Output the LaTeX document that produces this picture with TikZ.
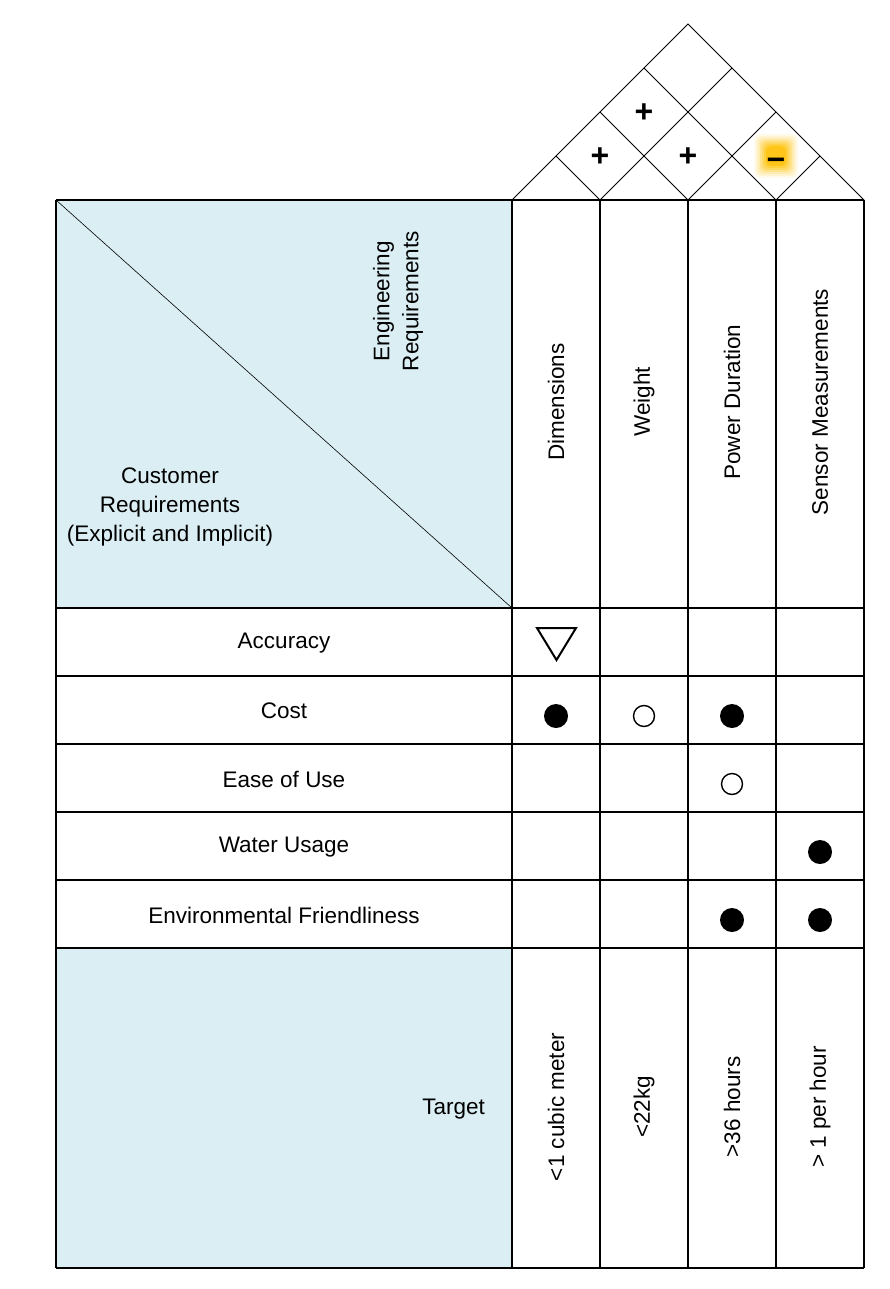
\documentclass[tikz,border=0pt]{standalone}
\usepackage{fontspec}
\setmainfont{Liberation Sans}
\definecolor{cellblue}{HTML}{DAEEF3}
\definecolor{glow}{HTML}{FFC000}
\begin{document}
\begin{tikzpicture}[x=1pt,y=-1pt]
    \tikzstyle{grid} = [draw=black, line width=1.2pt]
    \tikzstyle{roof} = [draw=black, line width=0.8pt]
    \tikzstyle{lbl}  = [font=\fontsize{22.5}{29}\selectfont, inner sep=0pt, align=center]
    \tikzstyle{vlbl} = [lbl, rotate=90]
    \tikzstyle{full} = [circle, fill=black, minimum size=24pt, inner sep=0pt]
    \tikzstyle{open} = [circle, draw=black, line width=1.4pt, minimum size=21pt, inner sep=0pt]
    \tikzstyle{sign} = [font=\fontsize{32}{32}\selectfont\bfseries, inner sep=0pt]
    \useasboundingbox (0,0) rectangle (889,1289);

    % blue cells
    \fill[cellblue] (56,200) rectangle (512,608);
    \fill[cellblue] (56,948) rectangle (512,1268);

    % roof
    \foreach \r/\c in {22/8,20/18,18/30,16/45,14/60,12/75,10/90}
        \fill[glow!\c, rounded corners=5pt] (776-\r,156-\r) rectangle (776+\r,156+\r);
    \draw[roof] (512,200) -- (688,24) -- (864,200);
    \foreach \x in {600,688,776} {
        \draw[roof] (\x,200) -- ({(\x+864)/2},{200-(864-\x)/2});
        \draw[roof] (\x,200) -- ({(\x+512)/2},{200-(\x-512)/2});
    }
    \node (s1) [sign] at (600,157) {+};
    \node (s2) [sign] at (644,113) {+};
    \node (s3) [sign] at (688,157) {+};
    \node (s4) [sign] at (776,164) {−};

    % table
    \draw[line width=0.6pt] (56,200) -- (512,608);
    \foreach \x in {56,512,600,688,776,864}
        \draw[grid] (\x,200) -- (\x,1268);
    \foreach \y in {200,608,676,744,812,880,948,1268}
        \draw[grid] (56,\y) -- (864,\y);

    % headers
    \node (cust) [lbl] at (170,507) {Customer\\Requirements\\(Explicit and Implicit)};
    \node (eng) [vlbl] at (398,301) {Engineering\\Requirements};
    \node (c1) [vlbl] at (556,402) {Dimensions};
    \node (c2) [vlbl] at (644,402) {Weight};
    \node (c3) [vlbl] at (732,402) {Power Duration};
    \node (c4) [vlbl] at (820,402) {Sensor Measurements};

    % rows
    \node (r1) [lbl] at (284,643) {Accuracy};
    \node (r2) [lbl] at (284,711) {Cost};
    \node (r3) [lbl] at (284,779) {Ease of Use};
    \node (r4) [lbl] at (284,847) {Water Usage};
    \node (r5) [lbl] at (284,915) {Environmental Friendliness};

    % marks
    \draw[line width=2pt, line join=miter] (537,628) -- (576,628) -- (556.5,660) -- cycle;
    \node (m21) [full] at (556,716) {};
    \node (m22) [open] at (644,716) {};
    \node (m23) [full] at (732,716) {};
    \node (m33) [open] at (732,784) {};
    \node (m44) [full] at (820,852) {};
    \node (m53) [full] at (732,920) {};
    \node (m54) [full] at (820,920) {};

    % targets
    \node (tgt) [lbl, anchor=east] at (485,1109) {Target};
    \node (t1) [vlbl] at (556,1107) {<1 cubic meter};
    \node (t2) [vlbl] at (644,1107) {<22kg};
    \node (t3) [vlbl] at (732,1107) {>36 hours};
    \node (t4) [vlbl] at (820,1107) {> 1 per hour};
\end{tikzpicture}
\end{document}
